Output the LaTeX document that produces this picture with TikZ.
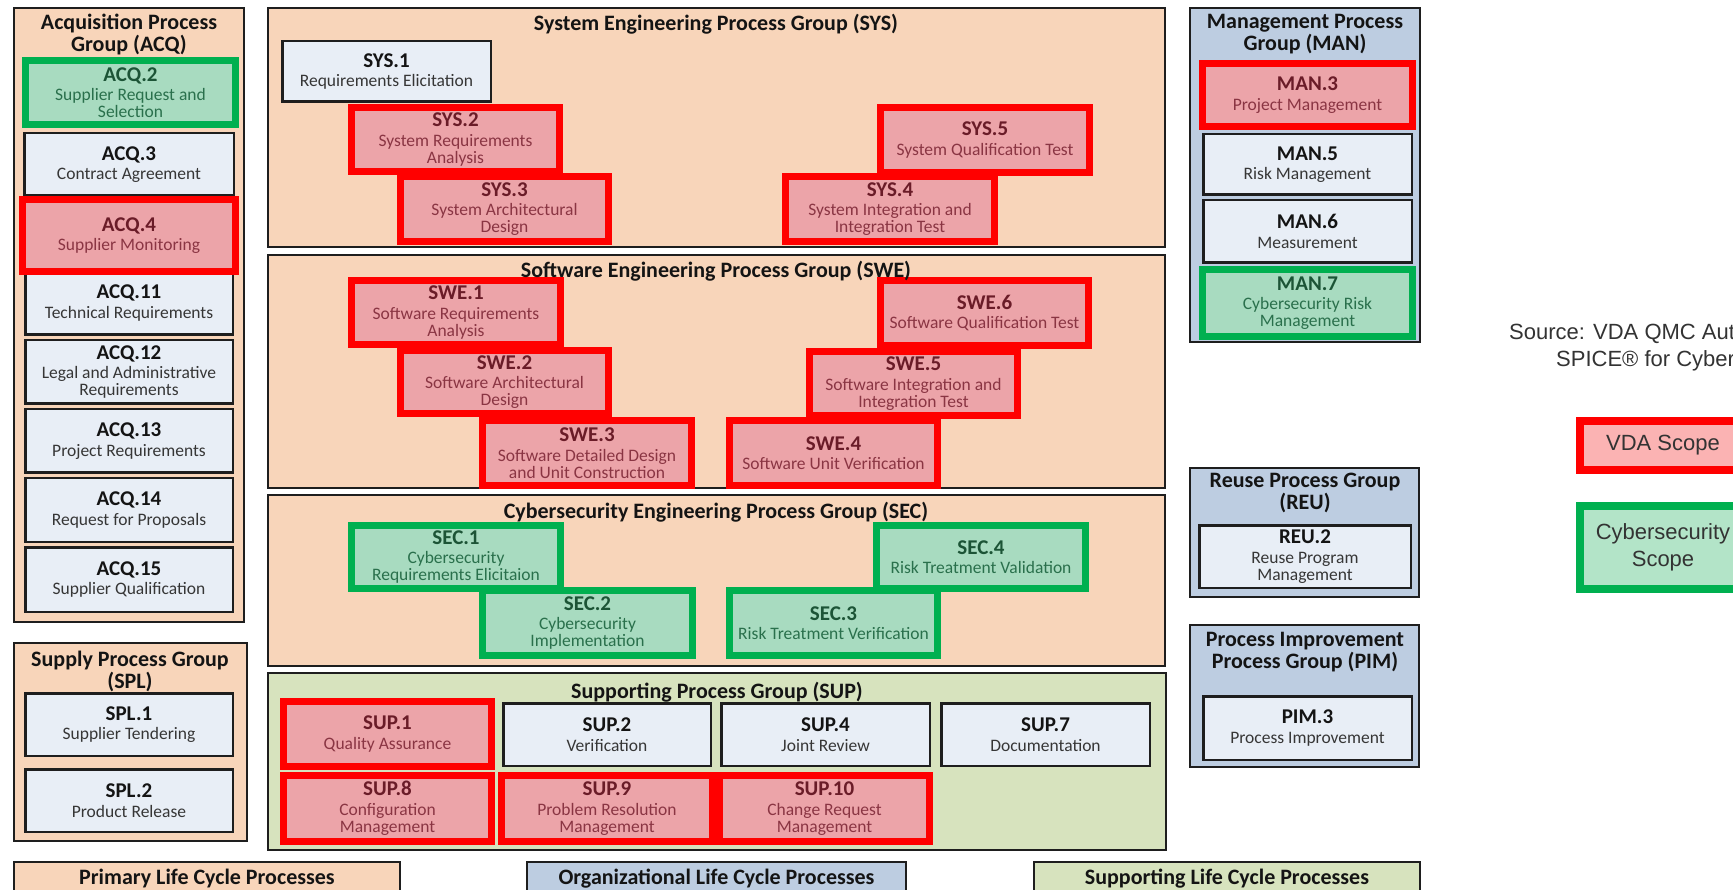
\documentclass[tikz,border=0pt]{standalone}
\usepackage{fontspec}
\setmainfont{Carlito}
\newfontfamily\arialfont{Liberation Sans}

\definecolor{peach}{HTML}{F8D5BA}
\definecolor{slate}{HTML}{BDCDE1}
\definecolor{sage}{HTML}{D7E3BE}
\definecolor{paleblue}{HTML}{E8EEF6}
\definecolor{vdared}{HTML}{FF0000}
\definecolor{vdafill}{HTML}{ECA4A9}
\definecolor{csgreen}{HTML}{00B050}
\definecolor{csfill}{HTML}{A8DBC0}
\definecolor{redcode}{HTML}{6A1C28}
\definecolor{reddesc}{HTML}{8A3543}
\definecolor{greencode}{HTML}{1C5436}
\definecolor{greendesc}{HTML}{2A704C}
\definecolor{inkcode}{HTML}{141414}
\definecolor{inkdesc}{HTML}{363636}
\definecolor{frame}{HTML}{1E1E1E}
\definecolor{legpink}{HTML}{FBB3B3}
\definecolor{legmint}{HTML}{B3E4C8}
\definecolor{legtext}{HTML}{333333}

\tikzset{
  proc/.style={rectangle, inner sep=0pt, outer sep=0pt, align=center,
    font=\fontsize{17.5}{17}\selectfont},
  plainproc/.style={proc, fill=paleblue, draw=frame, text=inkdesc,
    execute at begin node=\colorlet{codeink}{inkcode}},
  vdaproc/.style={proc, fill=vdafill, draw=vdared, text=reddesc,
    execute at begin node=\colorlet{codeink}{redcode}},
  csproc/.style={proc, fill=csfill, draw=csgreen, text=greendesc,
    execute at begin node=\colorlet{codeink}{greencode}},
  group/.style={rectangle, inner sep=0pt, outer sep=0pt, draw=frame, line width=2.2pt},
  grouptitle/.style={align=center, inner sep=0pt, text=inkcode,
    font=\fontsize{22}{22}\selectfont\bfseries},
  legendbox/.style={rectangle, inner sep=0pt, outer sep=0pt, align=center,
    line width=8pt, text=legtext, font=\arialfont\fontsize{22}{27}\selectfont},
  sourcetext/.style={anchor=west, inner sep=0pt, text=legtext,
    font=\arialfont\fontsize{22}{27}\selectfont},
}

% process box: name, style, border width, x1, y1, x2, y2 (outer edges), text
\newcommand\pb[8]{\node[#2, line width=#3pt, minimum width={#6-#4-#3},
  minimum height={#7-#5-#3}] (#1) at ({(#4+#6)/2},{(#5+#7)/2}) {#8};}
% group frame: name, fill, x1, y1, x2, y2
\newcommand\gb[6]{\node[group, fill=#2, minimum width={#5-#3-2.2},
  minimum height={#6-#4-2.2}] (#1) at ({(#3+#5)/2},{(#4+#6)/2}) {};}
% process label: code line and description
\newcommand\proctext[2]{{\color{codeink}\fontsize{21}{21}\selectfont\bfseries #1}\\[2.5pt]#2}

\begin{document}
\begin{tikzpicture}[x=1pt, y=-1pt]
\useasboundingbox[fill=white] (0,0) rectangle (1733,890);

% ---------------- Acquisition ----------------
\gb{acq}{peach}{13}{7}{245}{623}
\pb{acq3}{plainproc}{2.5}{23}{132}{235}{197}{\proctext{ACQ.3}{Contract Agreement}}
\pb{acq11}{plainproc}{2.5}{24}{270}{234}{336}{\proctext{ACQ.11}{Technical Requirements}}
\pb{acq12}{plainproc}{2.5}{24}{339}{234}{405}{\proctext{ACQ.12}{Legal and Administrative\\Requirements}}
\pb{acq13}{plainproc}{2.5}{24}{408}{234}{474}{\proctext{ACQ.13}{Project Requirements}}
\pb{acq14}{plainproc}{2.5}{24}{477}{234}{543}{\proctext{ACQ.14}{Request for Proposals}}
\pb{acq15}{plainproc}{2.5}{24}{546}{234}{613}{\proctext{ACQ.15}{Supplier Qualification}}
\pb{acq2}{csproc}{7}{22}{57}{239}{128}{\proctext{ACQ.2}{Supplier Request and\\Selection}}
\pb{acq4}{vdaproc}{7}{19}{196}{239}{275}{\proctext{ACQ.4}{Supplier Monitoring}}
\node[grouptitle] (acqT) at (129,34) {Acquisition Process\\Group (ACQ)};

% ---------------- Supply ----------------
\gb{spl}{peach}{13}{642}{248}{842}
\pb{spl1}{plainproc}{2.5}{24}{692}{234}{757}{\proctext{SPL.1}{Supplier Tendering}}
\pb{spl2}{plainproc}{2.5}{24}{768}{234}{833}{\proctext{SPL.2}{Product Release}}
\node[grouptitle] (splT) at (130,671) {Supply Process Group\\(SPL)};

% ---------------- System engineering ----------------
\gb{sys}{peach}{267}{7}{1166}{248}
\pb{sys1}{plainproc}{2.5}{281}{40}{492}{103}{\proctext{SYS.1}{Requirements Elicitation}}
\pb{sys2}{vdaproc}{7}{348}{104}{563}{175}{\proctext{SYS.2}{System Requirements\\Analysis}}
\pb{sys3}{vdaproc}{7}{397}{173}{612}{245}{\proctext{SYS.3}{System Architectural\\Design}}
\pb{sys5}{vdaproc}{7}{877}{104}{1093}{176}{\proctext{SYS.5}{System Qualification Test}}
\pb{sys4}{vdaproc}{7}{782}{173}{998}{245}{\proctext{SYS.4}{System Integration and\\Integration Test}}
\node[grouptitle] (sysT) at (716,24) {System Engineering Process Group (SYS)};

% ---------------- Software engineering ----------------
\gb{swe}{peach}{267}{254}{1166}{489}
\pb{swe1}{vdaproc}{7}{348}{277}{564}{348}{\proctext{SWE.1}{Software Requirements\\Analysis}}
\pb{swe2}{vdaproc}{7}{397}{347}{612}{417}{\proctext{SWE.2}{Software Architectural\\Design}}
\pb{swe3}{vdaproc}{7}{479}{417}{695}{489}{\proctext{SWE.3}{Software Detailed Design\\and Unit Construction}}
\pb{swe6}{vdaproc}{7}{877}{277}{1092}{349}{\proctext{SWE.6}{Software Qualification Test}}
\pb{swe5}{vdaproc}{7}{806}{348}{1021}{419}{\proctext{SWE.5}{Software Integration and\\Integration Test}}
\pb{swe4}{vdaproc}{7}{726}{417}{941}{489}{\proctext{SWE.4}{Software Unit Verification}}
\node[grouptitle] (sweT) at (716,271) {Software Engineering Process Group (SWE)};

% ---------------- Cybersecurity engineering ----------------
\gb{sec}{peach}{267}{494}{1166}{667}
\pb{sec1}{csproc}{7}{348}{522}{564}{592}{\proctext{SEC.1}{Cybersecurity\\Requirements Elicitaion}}
\pb{sec2}{csproc}{7}{479}{587}{696}{659}{\proctext{SEC.2}{Cybersecurity\\Implementation}}
\pb{sec4}{csproc}{7}{873}{522}{1089}{592}{\proctext{SEC.4}{Risk Treatment Validation}}
\pb{sec3}{csproc}{7}{726}{587}{941}{659}{\proctext{SEC.3}{Risk Treatment Verification}}
\node[grouptitle] (secT) at (716,512) {Cybersecurity Engineering Process Group (SEC)};

% ---------------- Supporting ----------------
\gb{sup}{sage}{267}{672}{1167}{851}
\pb{sup2}{plainproc}{2.5}{502}{702}{712}{767}{\proctext{SUP.2}{Verification}}
\pb{sup4}{plainproc}{2.5}{720}{702}{931}{767}{\proctext{SUP.4}{Joint Review}}
\pb{sup7}{plainproc}{2.5}{940}{702}{1151}{767}{\proctext{SUP.7}{Documentation}}
\pb{sup1}{vdaproc}{7}{280}{698}{495}{770}{\proctext{SUP.1}{Quality Assurance}}
\pb{sup8}{vdaproc}{7}{280}{772}{495}{845}{\proctext{SUP.8}{Configuration\\Management}}
\pb{sup9}{vdaproc}{7}{498}{772}{716}{845}{\proctext{SUP.9}{Problem Resolution\\Management}}
\pb{sup10}{vdaproc}{7}{716}{772}{933}{845}{\proctext{SUP.10}{Change Request\\Management}}
\node[grouptitle] (supT) at (717,692) {Supporting Process Group (SUP)};

% ---------------- Management ----------------
\gb{man}{slate}{1189}{7}{1421}{343}
\pb{man5}{plainproc}{2.5}{1202}{133}{1413}{196}{\proctext{MAN.5}{Risk Management}}
\pb{man6}{plainproc}{2.5}{1202}{199}{1413}{264}{\proctext{MAN.6}{Measurement}}
\pb{man3}{vdaproc}{7}{1199}{60}{1416}{130}{\proctext{MAN.3}{Project Management}}
\pb{man7}{csproc}{7}{1199}{266}{1416}{340}{\proctext{MAN.7}{Cybersecurity Risk\\Management}}
\node[grouptitle] (manT) at (1305,34) {Management Process\\Group (MAN)};

% ---------------- Reuse ----------------
\gb{reu}{slate}{1189}{467}{1420}{598}
\pb{reu2}{plainproc}{2.5}{1198}{524}{1412}{589}{\proctext{REU.2}{Reuse Program\\Management}}
\node[grouptitle] (reuT) at (1305,493) {Reuse Process Group\\(REU)};

% ---------------- Process improvement ----------------
\gb{pim}{slate}{1189}{624}{1420}{768}
\pb{pim3}{plainproc}{2.5}{1202}{695}{1413}{761}{\proctext{PIM.3}{Process Improvement}}
\node[grouptitle] (pimT) at (1305,652) {Process Improvement\\Process Group (PIM)};

% ---------------- Life cycle categories ----------------
\node[group, fill=peach, minimum width=386, minimum height=34, grouptitle] (primary)
  at (207,879) {Primary Life Cycle Processes};
\node[group, fill=slate, minimum width=379, minimum height=34, grouptitle] (organizational)
  at (716.5,879) {Organizational Life Cycle Processes};
\node[group, fill=sage, minimum width=386, minimum height=34, grouptitle] (supporting)
  at (1227,879) {Supporting Life Cycle Processes};

% ---------------- Source and legend ----------------
\node[sourcetext] (src1) at (1509,334) {Source: VDA QMC Aut};
\node[sourcetext] (src2) at (1556,361) {SPICE® for Cyber};
\node[legendbox, fill=legpink, draw=vdared, minimum width=166, minimum height=49]
  (legvda) at (1663,445.5) {VDA Scope};
\node[legendbox, fill=legmint, draw=csgreen, minimum width=166, minimum height=83]
  (legcs) at (1663,547.5) {Cybersecurity\\Scope};
\end{tikzpicture}
\end{document}
